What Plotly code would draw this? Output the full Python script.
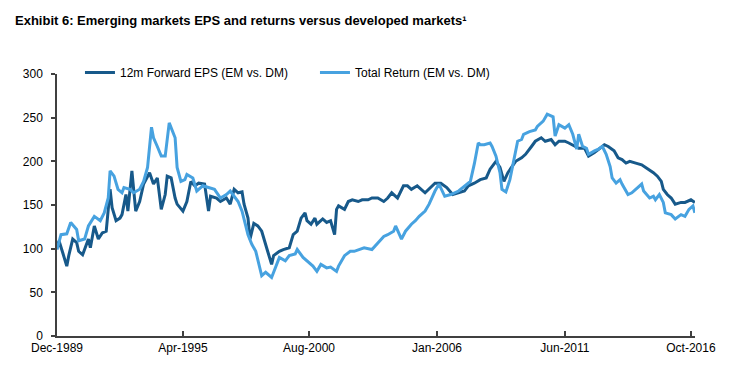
import plotly.graph_objects as go

eps_dates = ["1989-12", "1990-01", "1990-03", "1990-05", "1990-06", "1990-08", "1990-10", "1990-11",
             "1991-01", "1991-04", "1991-05", "1991-07", "1991-09", "1991-11", "1992-01", "1992-03",
             "1992-04", "1992-06", "1992-08", "1992-09", "1992-11", "1992-12", "1993-02", "1993-04",
             "1993-06", "1993-08", "1993-11", "1994-01", "1994-03", "1994-05", "1994-07", "1994-08",
             "1994-10", "1994-12", "1995-01", "1995-04", "1995-06", "1995-07", "1995-08", "1995-10",
             "1995-12", "1996-03", "1996-05", "1996-06", "1996-09", "1996-11", "1997-02", "1997-04",
             "1997-06", "1997-08", "1997-10", "1997-11", "1997-12", "1998-01", "1998-02", "1998-04",
             "1998-06", "1998-08", "1998-11", "1999-01", "1999-02", "1999-05", "1999-07", "1999-10",
             "1999-12", "2000-02", "2000-04", "2000-06", "2000-07", "2000-09", "2000-11", "2000-12",
             "2001-03", "2001-05", "2001-07", "2001-09", "2001-10", "2001-11", "2002-02", "2002-04",
             "2002-06", "2002-09", "2002-11", "2003-02", "2003-04", "2003-07", "2003-10", "2003-12",
             "2004-02", "2004-05", "2004-08", "2004-10", "2004-12", "2005-03", "2005-07", "2005-10",
             "2005-12", "2006-03", "2006-06", "2006-09", "2006-12", "2007-03", "2007-05", "2007-08",
             "2007-11", "2008-02", "2008-04", "2008-07", "2008-09", "2008-11", "2009-01", "2009-03",
             "2009-05", "2009-08", "2009-10", "2010-01", "2010-03", "2010-06", "2010-08", "2010-11",
             "2011-01", "2011-03", "2011-06", "2011-08", "2011-11", "2012-01", "2012-04", "2012-06",
             "2012-09", "2012-11", "2013-02", "2013-04", "2013-07", "2013-09", "2013-11", "2014-01",
             "2014-03", "2014-06", "2014-09", "2014-11", "2015-02", "2015-03", "2015-05", "2015-07",
             "2015-08", "2015-10", "2015-12", "2016-02", "2016-05", "2016-07", "2016-10", "2016-12"]
eps_values = [101, 109, 95, 80, 92, 111, 107, 97,
              93, 111, 101, 126, 111, 118, 120, 168,
              147, 132, 135, 139, 162, 143, 189, 143,
              154, 174, 187, 174, 181, 145, 162, 183,
              181, 158, 151, 143, 154, 166, 177, 172,
              175, 174, 143, 160, 158, 154, 158, 151,
              168, 164, 165, 151, 143, 135, 111, 129,
              126, 120, 97, 82, 92, 97, 99, 101,
              116, 120, 135, 141, 132, 128, 135, 128,
              134, 130, 132, 116, 145, 149, 145, 154,
              156, 154, 156, 156, 158, 158, 154, 158,
              164, 158, 172, 172, 168, 172, 164, 170,
              175, 175, 170, 162, 164, 166, 172, 175,
              179, 181, 191, 200, 193, 177, 187, 193,
              200, 204, 208, 217, 223, 227, 223, 225,
              219, 223, 223, 221, 217, 215, 215, 206,
              210, 214, 219, 217, 212, 204, 202, 198,
              200, 198, 196, 193, 189, 187, 183, 177,
              168, 162, 158, 151, 153, 153, 156, 153]

tr_dates = ["1989-12", "1990-02", "1990-05", "1990-07", "1990-10", "1990-11", "1991-02", "1991-04",
            "1991-07", "1991-10", "1991-12", "1992-02", "1992-03", "1992-05", "1992-07", "1992-09",
            "1992-10", "1993-01", "1993-03", "1993-06", "1993-08", "1993-10", "1993-12", "1994-01",
            "1994-03", "1994-05", "1994-07", "1994-08", "1994-09", "1994-12", "1995-01", "1995-03",
            "1995-05", "1995-06", "1995-09", "1995-11", "1996-02", "1996-05", "1996-08", "1996-11",
            "1997-02", "1997-04", "1997-06", "1997-08", "1997-10", "1997-12", "1998-01", "1998-03",
            "1998-05", "1998-08", "1998-10", "1999-01", "1999-03", "1999-05", "1999-08", "1999-10",
            "2000-01", "2000-02", "2000-05", "2000-07", "2000-10", "2000-12", "2001-02", "2001-05",
            "2001-07", "2001-10", "2001-11", "2002-02", "2002-05", "2002-07", "2002-10", "2002-12",
            "2003-04", "2003-07", "2003-10", "2003-12", "2004-03", "2004-04", "2004-07", "2004-09",
            "2004-12", "2005-02", "2005-04", "2005-07", "2005-09", "2005-12", "2006-02", "2006-05",
            "2006-08", "2006-12", "2007-03", "2007-06", "2007-08", "2007-10", "2007-11", "2008-01",
            "2008-04", "2008-05", "2008-07", "2008-09", "2008-10", "2008-12", "2009-02", "2009-04",
            "2009-06", "2009-08", "2009-09", "2009-12", "2010-03", "2010-04", "2010-07", "2010-09",
            "2010-12", "2011-01", "2011-03", "2011-06", "2011-08", "2011-10", "2011-12", "2012-01",
            "2012-03", "2012-05", "2012-06", "2012-09", "2012-11", "2013-01", "2013-03", "2013-05",
            "2013-06", "2013-08", "2013-10", "2013-11", "2014-02", "2014-04", "2014-07", "2014-09",
            "2014-10", "2015-01", "2015-03", "2015-04", "2015-06", "2015-08", "2015-09", "2015-12",
            "2016-02", "2016-05", "2016-07", "2016-09", "2016-11", "2016-12"]
tr_values = [99, 116, 117, 130, 122, 109, 111, 126,
             137, 132, 141, 158, 189, 183, 168, 164,
             170, 168, 164, 168, 177, 193, 239, 227,
             217, 206, 206, 227, 244, 227, 193, 177,
             179, 185, 181, 166, 172, 170, 168, 158,
             162, 166, 160, 154, 143, 124, 116, 105,
             97, 69, 73, 67, 78, 90, 86, 92,
             94, 99, 90, 86, 80, 74, 82, 78,
             79, 74, 80, 92, 97, 97, 99, 101,
             99, 107, 114, 116, 120, 126, 111, 120,
             128, 132, 137, 143, 151, 166, 174, 160,
             162, 166, 171, 177, 197, 221, 219, 219,
             221, 217, 206, 187, 168, 165, 179, 200,
             223, 225, 231, 234, 236, 240, 246, 254,
             251, 229, 242, 238, 242, 231, 214, 231,
             217, 215, 208, 212, 214, 217, 208, 194,
             181, 175, 179, 174, 162, 164, 170, 174,
             166, 158, 160, 156, 162, 153, 141, 139,
             134, 139, 137, 145, 149, 141]

tick_dates = ["1989-12-01", "1995-04-01", "2000-08-01", "2006-01-01", "2011-06-01", "2016-10-01"]
tick_labels = ["Dec-1989", "Apr-1995", "Aug-2000", "Jan-2006", "Jun-2011", "Oct-2016"]
series_names = ["12m Forward EPS (EM vs. DM)", "Total Return (EM vs. DM)"]
title_text = "Exhibit 6: Emerging markets EPS and returns versus developed markets¹"

FONT = "Liberation Sans, Arial, sans-serif"
DARK = "#17598a"
LIGHT = "#47a2e0"

fig = go.Figure()
fig.add_trace(go.Scatter(x=eps_dates, y=eps_values, mode="lines", name=series_names[0],
                         line=dict(color=DARK, width=3)))
fig.add_trace(go.Scatter(x=tr_dates, y=tr_values, mode="lines", name=series_names[1],
                         line=dict(color=LIGHT, width=3)))

fig.add_annotation(
    text="<b>" + title_text + "</b>",
    xref="paper", yref="paper",
    x=(5 - 49) / 638, y=1 + (66 - 13) / 262,
    xanchor="left", yanchor="middle", showarrow=False,
    font=dict(family=FONT, size=13, color="#000000"),
)

fig.update_layout(
    width=741, height=383,
    margin=dict(l=49, r=54, t=66, b=55),
    paper_bgcolor="white", plot_bgcolor="white",
    font=dict(family=FONT, size=12, color="#000000"),
    legend=dict(orientation="h", x=0.036, y=1.061, xanchor="left", yanchor="top",
                bgcolor="rgba(0,0,0,0)", font=dict(family=FONT, size=12),
                entrywidth=190, entrywidthmode="pixels", traceorder="normal"),
    showlegend=True,
)
fig.update_xaxes(
    type="date", range=["1989-12-01", "2016-12-03"],
    tickvals=tick_dates, ticktext=tick_labels,
    showgrid=False, zeroline=False,
    showline=True, linecolor="#404040", linewidth=1.5,
    ticks="inside", ticklen=5, tickcolor="#404040", tickwidth=1.5,
    tickfont=dict(family=FONT, size=12, color="#000000"),
)
fig.update_yaxes(
    range=[0, 300], dtick=50, tick0=0,
    showgrid=False, zeroline=False,
    showline=True, linecolor="#404040", linewidth=1.5,
    ticks="outside", ticklen=4, tickcolor="#404040", tickwidth=1.5,
    ticklabelstandoff=6,
    tickfont=dict(family=FONT, size=12, color="#000000"),
)

fig.write_html("out.html")
